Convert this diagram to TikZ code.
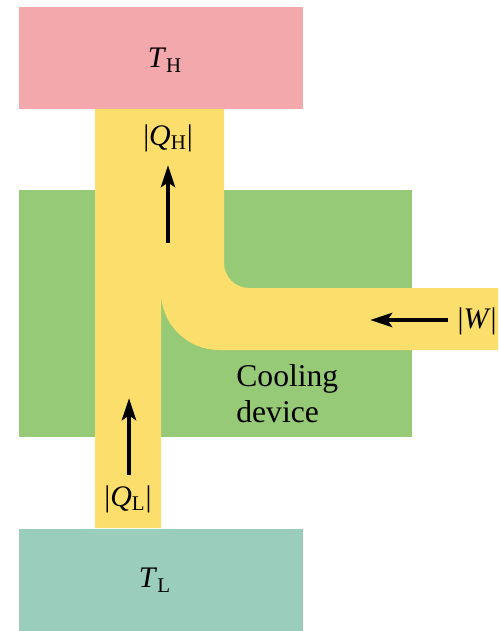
\documentclass[tikz,border=0pt]{standalone}
\usepackage{fontspec}
\setmainfont{Liberation Serif}
\usepackage{xcolor}
\definecolor{hotres}{RGB}{243,168,172}
\definecolor{coldres}{RGB}{154,205,188}
\definecolor{device}{RGB}{151,202,118}
\definecolor{heatflow}{RGB}{252,222,108}
\usetikzlibrary{arrows.meta,positioning}
\newcommand{\qty}[2]{\textit{#1}\textsubscript{#2}}
\tikzset{
  reservoir/.style={inner sep=0pt,minimum width=5.68cm,minimum height=2.04cm},
  label/.style={inner sep=0pt,font=\fontsize{17}{20}\selectfont},
  flowarrow/.style={-{Stealth[length=4.4mm,width=2.8mm,inset=0.9mm]},line width=2.7pt,black},
}

\begin{document}
\begin{tikzpicture}[x=0.02cm,y=-0.02cm]
\useasboundingbox (0,0) rectangle (498,631);
\clip (0,0) rectangle (498,631);
% reservoirs
\node[reservoir,fill=hotres] (hot) at (161,58) {};
\node[reservoir,fill=coldres] (cold) at (161,580) {};
\node[label] (th) at (165,60) {\qty{T}{H}};
\node[label] (tl) at (155,580) {\qty{T}{L}};
% device
\fill[device] (19,190) rectangle (412,437);
% energy flow channel
\fill[heatflow] (95,109) -- (224,109) -- (224,263)
  arc[start angle=180,end angle=90,radius=25] -- (498,288)
  -- (498,350) -- (219,350)
  arc[start angle=90,end angle=180,radius=58] -- (161,528)
  -- (95,528) -- cycle;
\node[label,font=\fontsize{18}{20}\selectfont,align=left,anchor=base west] (dev) at (236,422) {Cooling\\device};
% flows
\node[label] (qh) at (168,138) {|\qty{Q}{H}|};
\node[label] (ql) at (128,499) {|\qty{Q}{L}|};
\node[label,anchor=east] (w) at (497,321) {|\textit{W}|};
\coordinate (qhtail) at (168,243);
\coordinate (qhtip) at (168,165);
\coordinate (qltail) at (129,475);
\coordinate (qltip) at (129,398);
\coordinate (wtail) at (448,320);
\coordinate (wtip) at (370,320);
\draw[flowarrow] (qhtail) -- (qhtip);
\draw[flowarrow] (qltail) -- (qltip);
\draw[flowarrow] (wtail) -- (wtip);
\end{tikzpicture}
\end{document}
